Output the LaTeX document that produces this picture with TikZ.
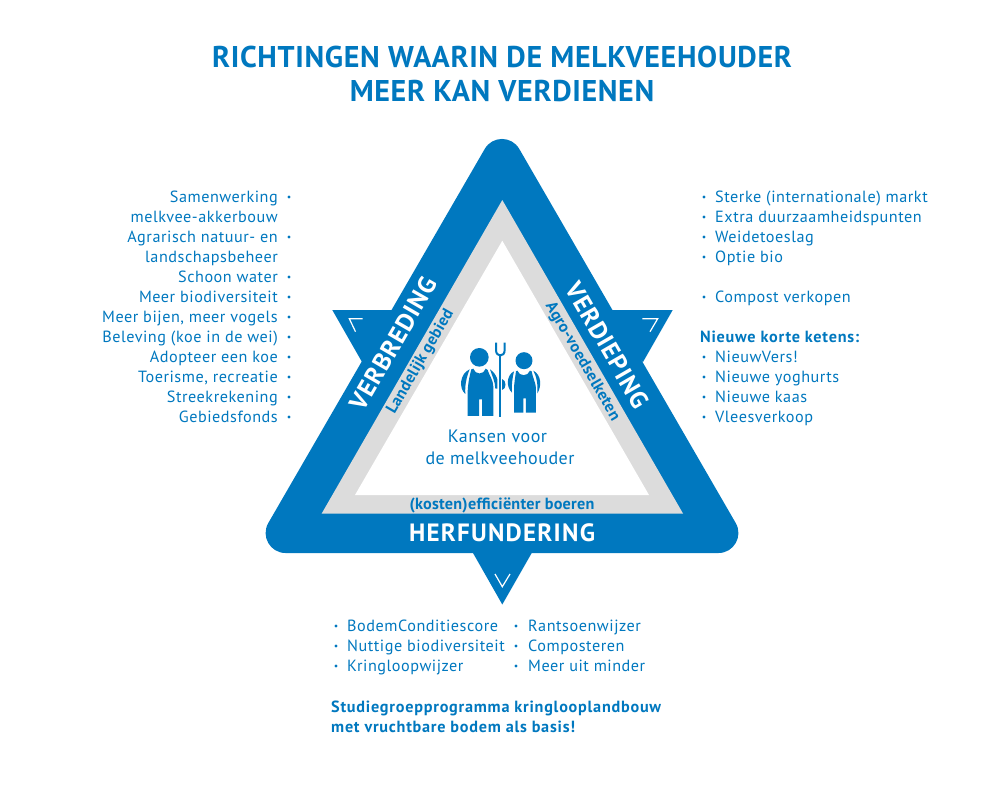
\documentclass[tikz,border=0pt]{standalone}
\usepackage{fontspec}
\setmainfont{PT Sans}
\definecolor{blu}{HTML}{0078BF}
\definecolor{gry}{HTML}{DCDCDC}
\newcommand{\fs}[2]{\fontsize{#1}{#1}\selectfont\addfontfeature{LetterSpace=#2}}
\tikzset{
  lbl/.style={text=blu,font=\fs{16.2}{3.3},inner sep=0pt,anchor=base west},
  lblr/.style={text=blu,font=\fs{16.2}{3.3},inner sep=0pt,anchor=base east},
  blbl/.style={text=blu,font=\bfseries\fs{16.2}{4.7},inner sep=0pt,anchor=base west},
  ctr/.style={text=blu,font=\fs{18}{2.8},inner sep=0pt,anchor=base},
  ttl/.style={text=blu,font=\bfseries\fs{30}{2.2},inner sep=0pt,anchor=base},
  band/.style={text=white,font=\bfseries\fs{25}{5},inner sep=0pt},
  bandr/.style={text=white,font=\bfseries\fs{25}{3.5},inner sep=0pt},
  sub/.style={text=blu,font=\bfseries\fs{16.2}{1.5},inner sep=0pt},
  chev/.style={draw=white,line width=1.2pt,miter limit=10}
}
\begin{document}
\begin{tikzpicture}[x=1pt,y=-1pt]
\useasboundingbox (0,0) rectangle (1000,800);
\fill[white] (0,0) rectangle (1000,800);
% title
\node[ttl] (t1) at (502,67) {RICHTINGEN WAARIN DE MELKVEEHOUDER};
\node[ttl] (t2) at (502,101) {MEER KAN VERDIENEN};
% flags
\fill[blu] (332.3,310) -- (420,310) -- (362,362) -- cycle;
\fill[blu] (672.7,310) -- (585,310) -- (643,362) -- cycle;
\fill[blu] (473,540) -- (531.7,540) -- (531.7,553) -- (502.3,604.5) -- (473,553) -- cycle;
% triangle
\fill[blu] (484.7,149) .. controls (492.4,135.6) and (511.6,135.6) .. (519.3,149)
  -- (735.7,523) .. controls (743.4,536.4) and (733.8,553) .. (718.4,553)
  -- (285.6,553) .. controls (270.2,553) and (260.6,536.4) .. (268.3,523) -- cycle;
\fill[gry] (502.3,200) -- (683,513.5) -- (321.7,513.5) -- cycle;
\fill[white] (502.3,240.7) -- (649,495) -- (355,495) -- cycle;
% chevrons
\draw[chev] (362.7,318.7) -- (349.3,318.7) -- (355.5,331.7);
\draw[chev] (642.3,318.7) -- (657.7,318.7) -- (650,331.7);
\draw[chev] (495,574) -- (502.3,586.7) -- (510,574);
% band text
\node[bandr,rotate=60] (verbr) at (393.3,343.5) {VERBREDING};
\node[bandr,rotate=-60] (verd) at (607.5,345) {VERDIEPING};
\node[band] (herf) at (502,533) {HERFUNDERING};
\node[sub,rotate=60] (land) at (420.7,361.7) {Landelijk gebied};
\node[sub,rotate=-60] (agro) at (582.3,361.7) {Agro-voedselketen};
\node[sub] (kost) at (502,505) {(kosten)efficiënter boeren};
% farmers
\begin{scope}[shift={(440,330)},x=0.3333pt,y=-0.3333pt]
\fill[blu] (118,82) circle (28);
\fill[blu] (252,92) circle (25.5);
% left figure
\fill[blu] (100,116) .. controls (105,135) and (132,135) .. (137,116) -- (143,120)
  .. controls (147,135) and (160,150) .. (160,170) -- (160,258) -- (126,258) -- (126,208) -- (117,208) -- (117,258) -- (83,258) -- (83,190)
  .. controls (83,165) and (88,140) .. (94,118) -- cycle;
\fill[blu] (89,118) .. controls (60,130) and (55,175) .. (76,192) .. controls (74,165) and (80,140) .. cycle;
\fill[blu] (150,118) .. controls (162,125) and (170,140) .. (172,148) -- (172,176) -- (166,176) .. controls (166,155) and (155,135) .. cycle;
\fill[blu] (186,147) .. controls (200,150) and (200,178) .. (186,180) -- cycle;
% right figure
\fill[blu] (232,122) .. controls (238,140) and (264,140) .. (270,122) -- (275,124) .. controls (277,140) and (288,160) .. (288,175) -- (288,248) -- (258,248) -- (258,205) -- (250,205) -- (250,248) -- (222,248) -- (222,180) .. controls (222,160) and (226,140) .. (228,124) -- cycle;
\fill[blu] (222,124) .. controls (200,135) and (197,170) .. (216,188) .. controls (214,165) and (218,140) .. cycle;
\fill[blu] (280,122) .. controls (305,135) and (305,170) .. (292,190) .. controls (294,165) and (290,140) .. cycle;
% fork
\fill[blu] (178,72) -- (184,72) -- (184,262) -- (178,262) -- cycle;
\draw[blu,line width=2pt] (168,38) -- (168,60) .. controls (168,82) and (194,82) .. (194,60) -- (194,38);
\end{scope}
\node[ctr] (k1) at (497.5,442) {Kansen voor};
\node[ctr] (k2) at (500,464) {de melkveehouder};
% left list
\node[lblr] (l1) at (278,202) {Samenwerking};
\node[lblr] (l2) at (278,222) {melkvee-akkerbouw};
\node[lblr] (l3) at (278,242) {Agrarisch natuur- en};
\node[lblr] (l4) at (278,262) {landschapsbeheer};
\node[lblr] (l5) at (278,282) {Schoon water};
\node[lblr] (l6) at (278,302) {Meer biodiversiteit};
\node[lblr] (l7) at (278,322) {Meer bijen, meer vogels};
\node[lblr] (l8) at (278,342) {Beleving (koe in de wei)};
\node[lblr] (l9) at (278,362) {Adopteer een koe};
\node[lblr] (l10) at (278,382) {Toerisme, recreatie};
\node[lblr] (l11) at (278,402) {Streekrekening};
\node[lblr] (l12) at (278,422) {Gebiedsfonds};
\foreach \y in {197,237,277,297,317,337,357,377,397,417} \fill[blu] (289,\y) circle (1.7);
% right list
\node[lbl] (r1) at (715,202) {Sterke (internationale) markt};
\node[lbl] (r2) at (715,222) {Extra duurzaamheidspunten};
\node[lbl] (r3) at (715,242) {Weidetoeslag};
\node[lbl] (r4) at (715,262) {Optie bio};
\node[lbl] (r5) at (715,302) {Compost verkopen};
\node[blbl] (r6) at (700,342) {Nieuwe korte ketens:};
\node[lbl] (r7) at (715,362) {NieuwVers!};
\node[lbl] (r8) at (715,382) {Nieuwe yoghurts};
\node[lbl] (r9) at (715,402) {Nieuwe kaas};
\node[lbl] (r10) at (715,422) {Vleesverkoop};
\foreach \y in {197,217,237,257,297,357,377,397,417} \fill[blu] (704,\y) circle (1.7);
% bottom
\node[lbl] (b1) at (347,631) {BodemConditiescore};
\node[lbl] (b2) at (347,651) {Nuttige biodiversiteit};
\node[lbl] (b3) at (347,671) {Kringloopwijzer};
\node[lbl] (b4) at (528,631) {Rantsoenwijzer};
\node[lbl] (b5) at (528,651) {Composteren};
\node[lbl] (b6) at (528,671) {Meer uit minder};
\foreach \y in {626,646,666} {\fill[blu] (336,\y) circle (1.7); \fill[blu] (516,\y) circle (1.7);}
\node[blbl] (s1) at (331,712) {Studiegroepprogramma kringlooplandbouw};
\node[blbl] (s2) at (331,732) {met vruchtbare bodem als basis!};
\end{tikzpicture}
\end{document}
